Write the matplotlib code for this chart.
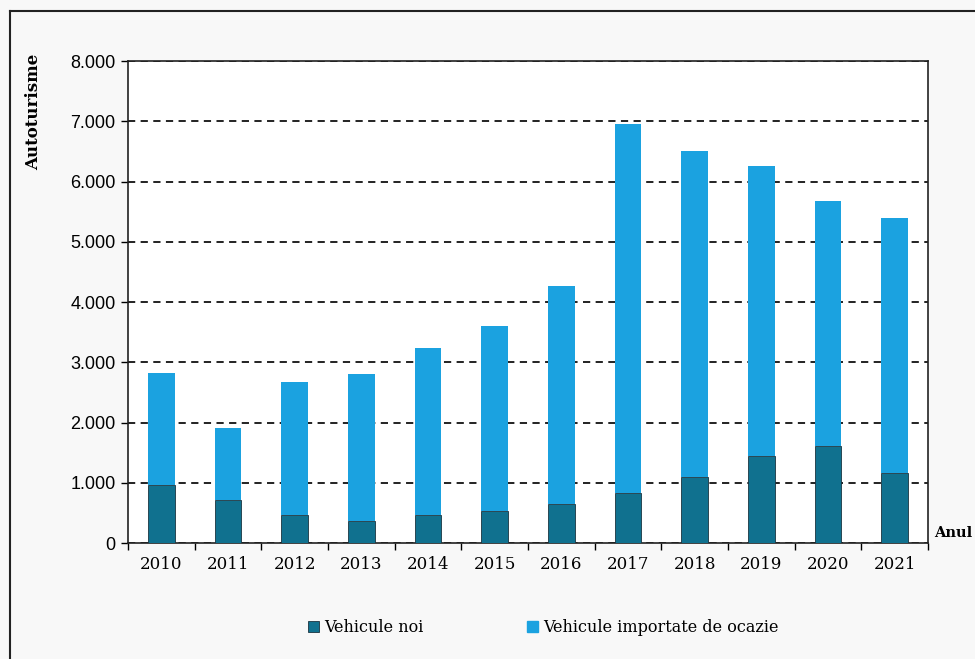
import matplotlib.pyplot as plt
import numpy as np
from matplotlib.lines import Line2D
from matplotlib.ticker import FuncFormatter

# data
years = ['2010', '2011', '2012', '2013', '2014', '2015',
         '2016', '2017', '2018', '2019', '2020', '2021']
total = [2820, 1910, 2670, 2800, 3240, 3600, 4265, 6950, 6505, 6255, 5675, 5395]
noi = [960, 710, 465, 370, 465, 535, 640, 825, 1100, 1450, 1610, 1165]
ocazie = [t - n for t, n in zip(total, noi)]

DARK = '#10718f'
LIGHT = '#1ba2e0'

fig = plt.figure(figsize=(9.75, 6.59), dpi=100, facecolor='#f8f8f8')
ax = fig.add_axes([0.1313, 0.176, 0.8205, 0.7314])
ax.set_facecolor('white')

x = np.arange(len(years))
ax.bar(x, noi, width=0.4, color=DARK, edgecolor='#1a3440', linewidth=0.6,
       label='Vehicule noi', zorder=3)
ax.bar(x, ocazie, bottom=noi, width=0.4, color=LIGHT, linewidth=0,
       label='Vehicule importate de ocazie', zorder=3)

ax.set_xlim(-0.5, len(years) - 0.5)
ax.set_ylim(0, 8000)
ax.set_yticks(range(0, 8001, 1000))
ax.yaxis.set_major_formatter(FuncFormatter(
    lambda v, p: '0' if v == 0 else '{:,.0f}'.format(v).replace(',', '.')))
ax.grid(axis='y', linestyle=(0, (4, 3)), color='#111111', linewidth=1.3, zorder=1)

# year labels centred, tick marks between the categories
ax.set_xticks(x)
ax.set_xticklabels(years, family='DejaVu Serif', fontsize=12)
ax.tick_params(axis='x', length=0, pad=9)
ax.set_xticks(np.arange(-0.5, len(years)), minor=True)
ax.tick_params(axis='x', which='minor', length=5, width=1, direction='out')
ax.tick_params(axis='y', length=5, width=1, direction='out', labelsize=13, pad=4)
for lab in ax.get_yticklabels():
    lab.set_family('Liberation Sans')

for s in ax.spines.values():
    s.set_color('#222222')
    s.set_linewidth(1.2)

fig.text(0.034, 0.83, 'Autoturisme', rotation=90, ha='center', va='center',
         family='DejaVu Serif', fontweight='bold', fontsize=12)
fig.text(0.958, 0.191, 'Anul', ha='left', va='center',
         family='DejaVu Serif', fontweight='bold', fontsize=10.5)

handles = [plt.Rectangle((0, 0), 1, 1, color=DARK, ec='#1a3440', lw=0.6),
           plt.Rectangle((0, 0), 1, 1, color=LIGHT)]
fig.legend(handles, ['Vehicule noi', 'Vehicule importate de ocazie'],
           loc='center', bbox_to_anchor=(0.557, 0.048), ncol=2, frameon=False,
           prop={'family': 'DejaVu Serif', 'size': 11.5},
           handlelength=0.7, handleheight=0.7, handletextpad=0.3,
           columnspacing=6.5)

# outer frame of the figure box
fig.add_artist(Line2D([0.0103, 0.0103], [0, 0.983], color='#222222', lw=1.5,
                      transform=fig.transFigure))
fig.add_artist(Line2D([0.0103, 1.0], [0.983, 0.983], color='#222222', lw=1.5,
                      transform=fig.transFigure))

fig.savefig('out.png', dpi=100, facecolor=fig.get_facecolor())
